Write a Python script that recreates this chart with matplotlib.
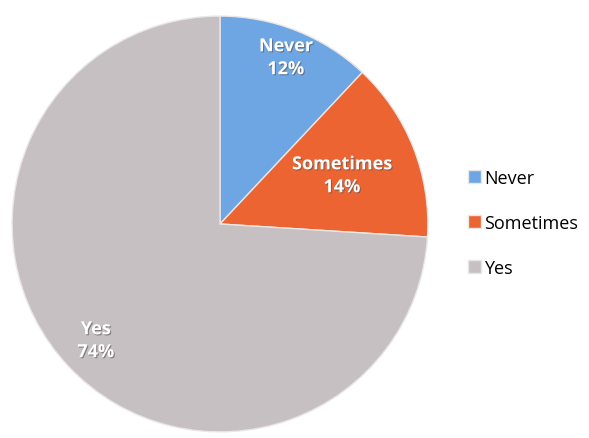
import numpy as np
import matplotlib.pyplot as plt
import matplotlib.patheffects as pe

labels = ["Never", "Sometimes", "Yes"]
values = [12, 14, 74]
colors = ["#6ea6e4", "#ec6431", "#c7c0c2"]
# how far out each data label sits, as a fraction of the radius
label_r = [0.86, 0.63, 0.82]

fig = plt.figure(figsize=(5.89, 4.39), dpi=100)
ax = fig.add_axes([0.017, 0.009, 0.713, 0.957])

wedges, _ = ax.pie(values, colors=colors, startangle=90, counterclock=False,
                   wedgeprops=dict(edgecolor="#e9e6e6", linewidth=1.0))
ax.set_xlim(-1.01, 1.01)
ax.set_ylim(-1.01, 1.01)
ax.set_aspect("equal")

shadow = [pe.withSimplePatchShadow(offset=(0.8, -0.8), shadow_rgbFace="#555555", alpha=0.6)]
for w, lab, val, r in zip(wedges, labels, values, label_r):
    mid = np.deg2rad((w.theta1 + w.theta2) / 2)
    ax.text(r * np.cos(mid), r * np.sin(mid), "%s\n%d%%" % (lab, val),
            ha="center", va="center", color="white", fontsize=13, fontweight="bold",
            family="Open Sans", linespacing=1.35, path_effects=shadow)

leg = fig.legend(wedges, labels, loc="center left", bbox_to_anchor=(0.782, 0.49),
                 frameon=False, handlelength=0.75, handleheight=0.75,
                 handletextpad=0.15, labelspacing=1.5, borderaxespad=0,
                 prop={"family": "Open Sans", "size": 13})

fig.savefig("out.png", dpi=100)
